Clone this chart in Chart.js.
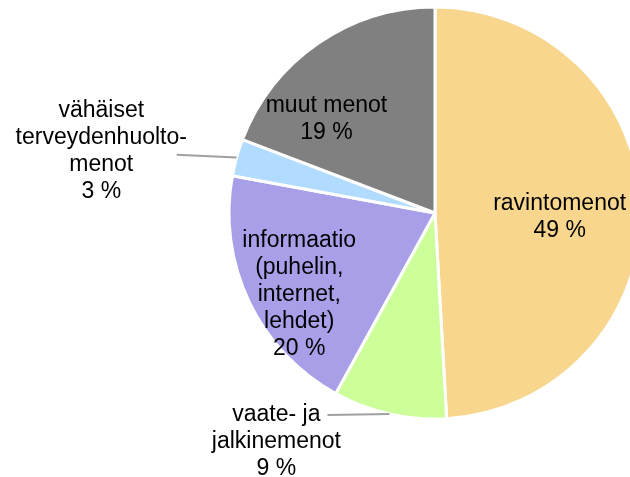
<!DOCTYPE html>
<html>
<head>
<meta charset="utf-8">
<script src="https://cdn.jsdelivr.net/npm/chart.js@4/dist/chart.umd.min.js"></script>
<style>
  html, body { margin: 0; padding: 0; background: #fff; overflow: hidden; }
  #wrap { width: 640px; height: 477px; position: relative; }
</style>
</head>
<body>
<div id="wrap"><canvas id="c" width="640" height="477"></canvas></div>
<script>
// ---- data ----
const categories = [
  ["ravintomenot"],
  ["vaate- ja", "jalkinemenot"],
  ["informaatio", "(puhelin,", "internet,", "lehdet)"],
  ["vähäiset", "terveydenhuolto-", "menot"],
  ["muut menot"]
];
const shares = [49.1, 8.9, 19.9, 2.9, 19.2];
const colors = ["#F8D68E", "#CCFF99", "#A79FE8", "#B2DCFF", "#808080"];

// label placement (in units of the pie radius, relative to pie centre)
const labelPos = [[0.605, 0.015], [-0.77, 1.107], [-0.659, 0.393], [-1.62, -0.305], [-0.527, -0.461]];
const leaderEnd = [null, [-0.522, 0.98], null, [-1.254, -0.283], null];

const labelPlugin = {
  id: 'pieLabels',
  afterDatasetsDraw(chart) {
    const ctx = chart.ctx;
    const meta = chart.getDatasetMeta(0);
    ctx.save();
    meta.data.forEach((arc, i) => {
      const R = arc.outerRadius;
      const mid = (arc.startAngle + arc.endAngle) / 2;
      if (leaderEnd[i]) {
        ctx.beginPath();
        ctx.strokeStyle = '#A0A0A0';
        ctx.lineWidth = 2;
        ctx.moveTo(arc.x + Math.cos(mid) * R * 1.0, arc.y + Math.sin(mid) * R * 1.0);
        ctx.lineTo(arc.x + leaderEnd[i][0] * R, arc.y + leaderEnd[i][1] * R);
        ctx.stroke();
      }
      const lines = categories[i].concat([Math.round(shares[i]) + ' %']);
      const cx = arc.x + labelPos[i][0] * R;
      const cy = arc.y + labelPos[i][1] * R;
      const lh = 27;
      ctx.font = '23px "Liberation Sans", Arial, sans-serif';
      ctx.fillStyle = '#000';
      ctx.textAlign = 'center';
      ctx.textBaseline = 'middle';
      const y0 = cy - (lines.length - 1) * lh / 2;
      lines.forEach((t, k) => ctx.fillText(t, cx, y0 + k * lh + 1));
    });
    ctx.restore();
  }
};

new Chart(document.getElementById('c'), {
  type: 'pie',
  data: {
    labels: categories.map(c => c.join(' ')),
    datasets: [{
      data: shares,
      backgroundColor: colors,
      borderColor: '#ffffff',
      borderWidth: 3
    }]
  },
  options: {
    responsive: false,
    animation: false,
    radius: 206,
    layout: { padding: { left: 230, right: 0, top: 8, bottom: 59 } },
    plugins: {
      legend: { display: false },
      tooltip: { enabled: false }
    }
  },
  plugins: [labelPlugin]
});
</script>
</body>
</html>
